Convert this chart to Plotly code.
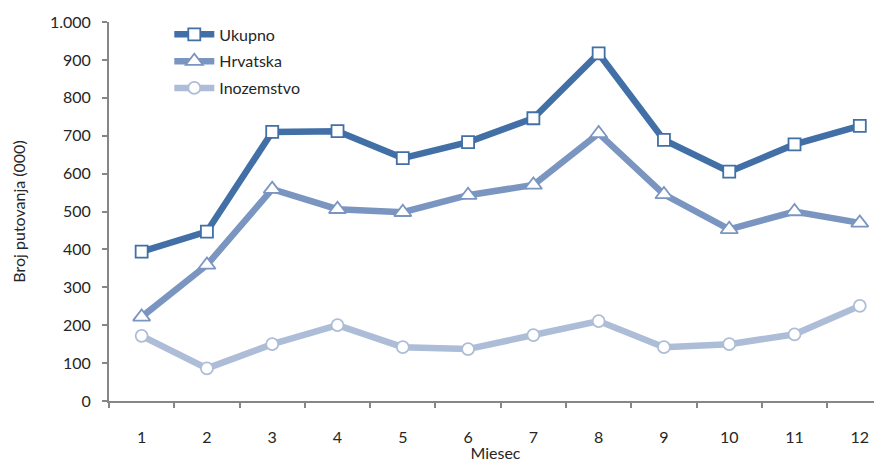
import plotly.graph_objects as go

months = [1, 2, 3, 4, 5, 6, 7, 8, 9, 10, 11, 12]
ukupno = [394, 447, 710, 712, 641, 683, 746, 917, 689, 605, 677, 726]
hrvatska = [222, 359, 559, 506, 498, 543, 570, 706, 545, 453, 500, 470]
inozemstvo = [172, 86, 150, 200, 142, 137, 174, 211, 142, 150, 176, 251]
y_ticks = [0, 100, 200, 300, 400, 500, 600, 700, 800, 900, 1000]
y_tick_labels = ["0", "100", "200", "300", "400", "500", "600", "700", "800", "900", "1.000"]

FONT = "Lato, 'Open Sans', sans-serif"

fig = go.Figure()
series = [
    ("Ukupno", ukupno, "#416FA6", "square", 12),
    ("Hrvatska", hrvatska, "#7B95C1", "triangle-up", 15),
    ("Inozemstvo", inozemstvo, "#ADBDD7", "circle", 12),
]
for name, vals, col, sym, sz in series:
    fig.add_trace(go.Scatter(
        x=months, y=vals, name=name, mode="lines+markers", legendgroup=name,
        line=dict(color=col, width=6.5),
        marker=dict(symbol=sym, size=sz, color="white", line=dict(color=col, width=1.8)),
    ))

fig.update_layout(
    width=874, height=454,
    margin=dict(l=101, r=0, t=14, b=61),
    paper_bgcolor="white", plot_bgcolor="white",
    font=dict(family=FONT, size=16, color="#262626"),
    showlegend=True,
    legend=dict(x=0.078, y=1.012, xanchor="left", yanchor="top",
                bgcolor="rgba(0,0,0,0)", font=dict(size=16, color="#262626"),
                tracegroupgap=3, itemwidth=40),
    xaxis=dict(
        range=[0.5, 12.34], tickvals=months, ticktext=[str(m) for m in months],
        ticks="", showgrid=False, zeroline=False, automargin=False,
        showline=True, linecolor="#868686", linewidth=2,
        minor=dict(ticks="outside", tick0=0.5, dtick=1, ticklen=5, tickcolor="#868686", tickwidth=1.5, showgrid=False),
        title=dict(text="Miesec", standoff=4, font=dict(size=16)),
        ticklabelstandoff=21,
    ),
    yaxis=dict(
        range=[0, 1000], tickvals=y_ticks, ticktext=y_tick_labels,
        ticks="outside", ticklen=5, tickcolor="#868686", tickwidth=1.5,
        showgrid=False, zeroline=False, automargin=False,
        showline=True, linecolor="#868686", linewidth=2,
        ticklabelstandoff=8,
        title=dict(text="Broj putovanja (000)", standoff=20, font=dict(size=16)),
    ),
)

fig.write_html("out.html")
